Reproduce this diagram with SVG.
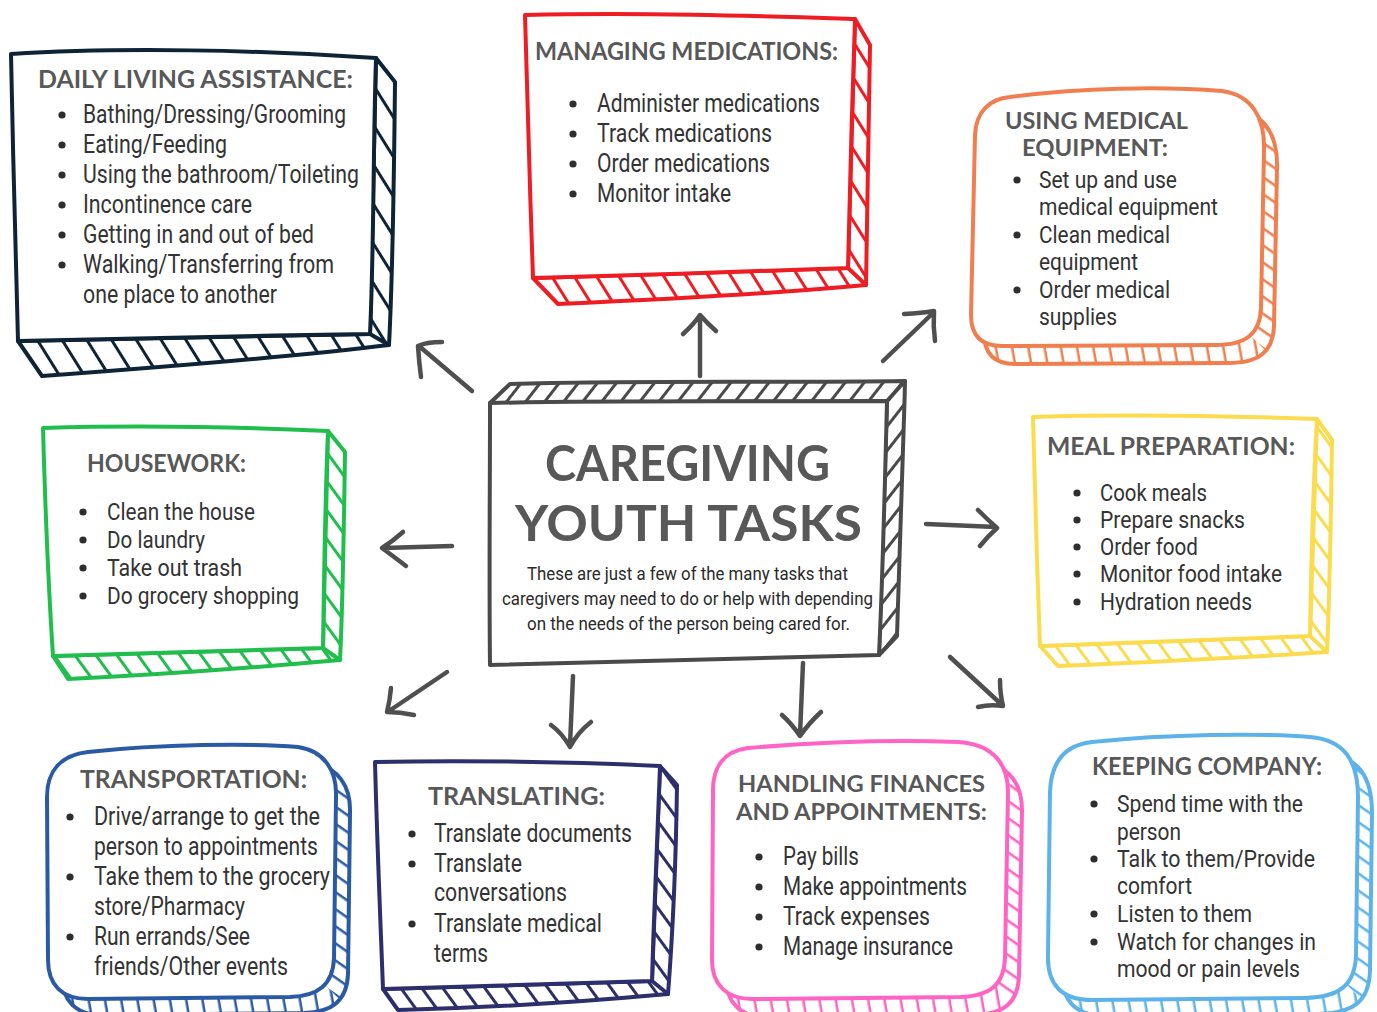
<svg xmlns="http://www.w3.org/2000/svg" width="1377" height="1012" viewBox="0 0 1377 1012">
<defs>
<style>
.t{font-family:Lato,"Open Sans",sans-serif;font-weight:700;fill:#585858;font-size:25px}
.t2{font-size:23px}
.big{font-size:50px}
.b{font-family:Roboto,"Liberation Sans",sans-serif;fill:#333;font-size:25px}
.s{font-size:24px}
.sub{font-family:Roboto,"Liberation Sans",sans-serif;fill:#2a2a2a;font-size:18.5px}
.dot{fill:#2e2e2e}
.face{fill:#fff;stroke-width:4;stroke-linejoin:round}
.band{stroke-width:4;stroke-linejoin:round}
.edge{fill:none;stroke-width:4;stroke-linecap:round}
.arr{fill:none;stroke:#4f4f4f;stroke-width:4.5;stroke-linecap:round;stroke-linejoin:round}
</style>
<!-- hatch fills for the extruded sides -->
<pattern id="hNavy" patternUnits="userSpaceOnUse" width="30" height="21" patternTransform="rotate(58)"><line x1="0" y1="1.5" x2="30" y2="1.5" stroke="#0e2436" stroke-width="3"/></pattern>
<pattern id="hRed" patternUnits="userSpaceOnUse" width="30" height="19" patternTransform="rotate(58)"><line x1="0" y1="1.5" x2="30" y2="1.5" stroke="#ee1d23" stroke-width="3"/></pattern>
<pattern id="hGreen" patternUnits="userSpaceOnUse" width="30" height="17" patternTransform="rotate(54)"><line x1="0" y1="1.5" x2="30" y2="1.5" stroke="#21be4d" stroke-width="3"/></pattern>
<pattern id="hYellow" patternUnits="userSpaceOnUse" width="30" height="17" patternTransform="rotate(54)"><line x1="0" y1="1.5" x2="30" y2="1.5" stroke="#fbdc4f" stroke-width="3"/></pattern>
<pattern id="hIndigo" patternUnits="userSpaceOnUse" width="30" height="17" patternTransform="rotate(54)"><line x1="0" y1="1.5" x2="30" y2="1.5" stroke="#2c2f6b" stroke-width="3"/></pattern>
<pattern id="hGray" patternUnits="userSpaceOnUse" width="30" height="15" patternTransform="rotate(-52)"><line x1="0" y1="1.5" x2="30" y2="1.5" stroke="#4a4a4a" stroke-width="3"/></pattern>
<pattern id="vOrange" patternUnits="userSpaceOnUse" width="30" height="16" patternTransform="rotate(80)"><line x1="0" y1="1.3" x2="30" y2="1.3" stroke="#f07e4e" stroke-width="2.5"/></pattern>
<pattern id="rOrange" patternUnits="userSpaceOnUse" width="30" height="14" patternTransform="rotate(35)"><line x1="0" y1="1.3" x2="30" y2="1.3" stroke="#f07e4e" stroke-width="2.5"/></pattern>
<pattern id="vBlue" patternUnits="userSpaceOnUse" width="30" height="16" patternTransform="rotate(80)"><line x1="0" y1="1.3" x2="30" y2="1.3" stroke="#2b5aa4" stroke-width="2.5"/></pattern>
<pattern id="rBlue" patternUnits="userSpaceOnUse" width="30" height="14" patternTransform="rotate(35)"><line x1="0" y1="1.3" x2="30" y2="1.3" stroke="#2b5aa4" stroke-width="2.5"/></pattern>
<pattern id="vPink" patternUnits="userSpaceOnUse" width="30" height="16" patternTransform="rotate(80)"><line x1="0" y1="1.3" x2="30" y2="1.3" stroke="#ff63c3" stroke-width="2.5"/></pattern>
<pattern id="rPink" patternUnits="userSpaceOnUse" width="30" height="14" patternTransform="rotate(35)"><line x1="0" y1="1.3" x2="30" y2="1.3" stroke="#ff63c3" stroke-width="2.5"/></pattern>
<pattern id="vSky" patternUnits="userSpaceOnUse" width="30" height="16" patternTransform="rotate(80)"><line x1="0" y1="1.3" x2="30" y2="1.3" stroke="#5db3e9" stroke-width="2.5"/></pattern>
<pattern id="rSky" patternUnits="userSpaceOnUse" width="30" height="14" patternTransform="rotate(35)"><line x1="0" y1="1.3" x2="30" y2="1.3" stroke="#5db3e9" stroke-width="2.5"/></pattern>
<!-- rounded card outlines -->
<path id="pOrange" d="M1010,97 C1080,88 1160,86 1222,91 C1252,95 1265,118 1264,150 L1261,308 C1260,334 1246,345 1215,345 L1002,346 C982,346 971,336 971,315 L975,135 C976,112 989,99 1010,97 Z"/>
<path id="pBlue" d="M88,752 C160,744 250,743 298,747 C324,751 337,770 336,797 L334,958 C333,985 318,996 290,997 L88,999 C62,999 48,985 48,960 L47,797 C47,771 61,755 88,752 Z"/>
<path id="pPink" d="M748,748 C820,742 900,740 958,742 C989,744 1008,760 1008,792 L1005,958 C1004,985 990,996 960,997 L752,999 C727,999 712,985 712,960 L713,790 C713,766 725,751 748,748 Z"/>
<path id="pSky" d="M1092,742 C1170,734 1258,733 1310,737 C1344,740 1358,760 1358,797 L1356,955 C1355,985 1340,997 1305,998 L1092,1000 C1062,1000 1047,985 1048,955 L1050,792 C1051,761 1065,745 1092,742 Z"/>
<clipPath id="cOrB"><polygon points="855,-60 1555,640 1555,900 855,900"/></clipPath>
<clipPath id="cOrR"><polygon points="855,-60 1555,640 1600,640 1600,-60"/></clipPath>
<clipPath id="cBlB"><polygon points="-70,590 630,1290 -70,1290"/></clipPath>
<clipPath id="cBlR"><polygon points="-70,590 630,1290 800,1290 800,500 -70,500"/></clipPath>
<clipPath id="cPkB"><polygon points="603,592 1303,1292 603,1292"/></clipPath>
<clipPath id="cPkR"><polygon points="603,592 1303,1292 1400,1292 1400,500 603,500"/></clipPath>
<clipPath id="cSkB"><polygon points="952,590 1652,1290 952,1290"/></clipPath>
<clipPath id="cSkR"><polygon points="952,590 1652,1290 1700,1290 1700,500 952,500"/></clipPath>
</defs>
<rect width="1377" height="1012" fill="#fff"/>

<!-- connectors -->
<g id="connectors">
<path class="arr" d="M472,391 L419,346 M442,342 Q426,342 418,346 Q419,362 421,377"/>
<path class="arr" d="M700,376 L700,316 M683,334 Q694,324 700,315 Q707,323 716,331"/>
<path class="arr" d="M883,361 L933,313 M904,314 Q922,313 934,311 Q933,326 935,341"/>
<path class="arr" d="M926,524 L996,527 M978,510 Q988,520 997,528 Q988,536 980,546"/>
<path class="arr" d="M950,657 L1001,704 M1000,680 Q1000,694 1003,706 Q990,704 978,707"/>
<path class="arr" d="M803,663 L800,735 M782,715 Q792,724 800,736 Q809,723 821,712"/>
<path class="arr" d="M573,676 L570,745 M551,725 Q562,733 570,747 Q578,732 591,722"/>
<path class="arr" d="M447,672 L389,711 M391,688 Q390,700 387,712 Q400,712 414,715"/>
<path class="arr" d="M452,546 L383,548 M403,532 Q393,541 382,548 Q393,556 406,566"/>
</g>

<!-- centre card -->
<g id="center">
<path class="band" d="M490,403 L510,384 C640,380 780,383 905,381 C903,470 900,560 897,636 L879,655 L887,401 Z" fill="url(#hGray)" stroke="#4a4a4a"/>
<path class="edge" d="M887,401 L905,381" stroke="#4a4a4a"/>
<path class="face" d="M490,403 C620,400 760,402 887,401 C885,480 883,570 879,655 C750,658 620,662 490,665 C489,580 490,490 490,403 Z" stroke="#4a4a4a"/>
<text class="t big" x="545" y="481" textLength="285" lengthAdjust="spacingAndGlyphs">CAREGIVING</text>
<text class="t big" x="515" y="541" textLength="347" lengthAdjust="spacingAndGlyphs">YOUTH TASKS</text>
<text class="sub" x="527" y="580" textLength="321" lengthAdjust="spacingAndGlyphs">These are just a few of the many tasks that</text>
<text class="sub" x="502" y="605" textLength="371" lengthAdjust="spacingAndGlyphs">caregivers may need to do or help with depending</text>
<text class="sub" x="527" y="630" textLength="323" lengthAdjust="spacingAndGlyphs">on the needs of the person being cared for.</text>
</g>

<!-- daily living -->
<g id="daily-living">
<path class="band" d="M376,58 L395,82 C394,180 393,270 389,345 C300,356 150,368 42,376 L18,341 L370,334 Z" fill="url(#hNavy)" stroke="#0e2436"/>
<path class="edge" d="M370,334 L389,345" stroke="#0e2436"/>
<path class="face" d="M11,54 C120,47 260,50 376,58 C373,150 374,250 370,334 C250,336 120,338 18,341 C15,240 13,150 11,54 Z" stroke="#0e2436"/>
<text class="t" x="38" y="88" textLength="315" lengthAdjust="spacingAndGlyphs">DAILY LIVING ASSISTANCE:</text>
<circle class="dot" cx="62" cy="115" r="3.6"/><text class="b" x="83" y="123" textLength="263" lengthAdjust="spacingAndGlyphs">Bathing/Dressing/Grooming</text>
<circle class="dot" cx="62" cy="145" r="3.6"/><text class="b" x="83" y="153" textLength="144" lengthAdjust="spacingAndGlyphs">Eating/Feeding</text>
<circle class="dot" cx="62" cy="175" r="3.6"/><text class="b" x="83" y="183" textLength="276" lengthAdjust="spacingAndGlyphs">Using the bathroom/Toileting</text>
<circle class="dot" cx="62" cy="205" r="3.6"/><text class="b" x="83" y="213" textLength="169" lengthAdjust="spacingAndGlyphs">Incontinence care</text>
<circle class="dot" cx="62" cy="235" r="3.6"/><text class="b" x="83" y="243" textLength="231" lengthAdjust="spacingAndGlyphs">Getting in and out of bed</text>
<circle class="dot" cx="62" cy="265" r="3.6"/><text class="b" x="83" y="273" textLength="251" lengthAdjust="spacingAndGlyphs">Walking/Transferring from</text>
<text class="b" x="83" y="303" textLength="194" lengthAdjust="spacingAndGlyphs">one place to another</text>
</g>

<!-- managing medications -->
<g id="medications">
<path class="band" d="M855,19 L870,45 C869,130 868,210 866,285 C760,295 650,300 558,304 L533,278 L848,268 Z" fill="url(#hRed)" stroke="#ee1d23"/>
<path class="edge" d="M848,268 L866,285" stroke="#ee1d23"/>
<path class="face" d="M525,15 C640,12 760,16 855,19 C852,100 850,190 848,268 C740,272 640,275 533,278 C530,190 527,100 525,15 Z" stroke="#ee1d23"/>
<text class="t" x="535" y="60" textLength="303" lengthAdjust="spacingAndGlyphs">MANAGING MEDICATIONS:</text>
<circle class="dot" cx="573" cy="104" r="3.6"/><text class="b" x="597" y="112" textLength="223" lengthAdjust="spacingAndGlyphs">Administer medications</text>
<circle class="dot" cx="573" cy="134" r="3.6"/><text class="b" x="597" y="142" textLength="175" lengthAdjust="spacingAndGlyphs">Track medications</text>
<circle class="dot" cx="573" cy="164" r="3.6"/><text class="b" x="597" y="172" textLength="173" lengthAdjust="spacingAndGlyphs">Order medications</text>
<circle class="dot" cx="573" cy="194" r="3.6"/><text class="b" x="597" y="202" textLength="134" lengthAdjust="spacingAndGlyphs">Monitor intake</text>
</g>

<!-- medical equipment -->
<g id="equipment">
<use href="#pOrange" transform="translate(13,18)" fill="#fff"/>
<g clip-path="url(#cOrB)"><use href="#pOrange" transform="translate(13,18)" fill="url(#vOrange)"/></g>
<g clip-path="url(#cOrR)"><use href="#pOrange" transform="translate(13,18)" fill="url(#rOrange)"/></g>
<use href="#pOrange" transform="translate(13,18)" fill="none" stroke="#f07e4e" stroke-width="4"/>
<use href="#pOrange" class="face" stroke="#f07e4e"/>
<text class="t t2" x="1005" y="129" textLength="183" lengthAdjust="spacingAndGlyphs">USING MEDICAL</text>
<text class="t t2" x="1022" y="156" textLength="146" lengthAdjust="spacingAndGlyphs">EQUIPMENT:</text>
<circle class="dot" cx="1017" cy="180" r="3.6"/><text class="b s" x="1039" y="188" textLength="138" lengthAdjust="spacingAndGlyphs">Set up and use</text>
<text class="b s" x="1039" y="215" textLength="179" lengthAdjust="spacingAndGlyphs">medical equipment</text>
<circle class="dot" cx="1017" cy="235" r="3.6"/><text class="b s" x="1039" y="243" textLength="131" lengthAdjust="spacingAndGlyphs">Clean medical</text>
<text class="b s" x="1039" y="270" textLength="99" lengthAdjust="spacingAndGlyphs">equipment</text>
<circle class="dot" cx="1017" cy="290" r="3.6"/><text class="b s" x="1039" y="298" textLength="131" lengthAdjust="spacingAndGlyphs">Order medical</text>
<text class="b s" x="1039" y="325" textLength="78" lengthAdjust="spacingAndGlyphs">supplies</text>
</g>

<!-- housework -->
<g id="housework">
<path class="band" d="M328,431 L345,452 C344,520 343,600 340,660 C250,668 150,675 68,679 L53,656 L323,648 Z" fill="url(#hGreen)" stroke="#21be4d"/>
<path class="edge" d="M323,648 L340,660" stroke="#21be4d"/>
<path class="face" d="M43,428 C140,425 240,427 328,431 C325,500 324,580 323,648 C230,651 140,653 53,656 C48,580 45,500 43,428 Z" stroke="#21be4d"/>
<text class="t" x="87" y="472" textLength="159" lengthAdjust="spacingAndGlyphs">HOUSEWORK:</text>
<circle class="dot" cx="83" cy="512" r="3.6"/><text class="b s" x="107" y="520" textLength="148" lengthAdjust="spacingAndGlyphs">Clean the house</text>
<circle class="dot" cx="83" cy="540" r="3.6"/><text class="b s" x="107" y="548" textLength="98" lengthAdjust="spacingAndGlyphs">Do laundry</text>
<circle class="dot" cx="83" cy="568" r="3.6"/><text class="b s" x="107" y="576" textLength="135" lengthAdjust="spacingAndGlyphs">Take out trash</text>
<circle class="dot" cx="83" cy="596" r="3.6"/><text class="b s" x="107" y="604" textLength="192" lengthAdjust="spacingAndGlyphs">Do grocery shopping</text>
</g>

<!-- meal preparation -->
<g id="meals">
<path class="band" d="M1317,419 L1332,440 C1331,510 1330,590 1327,652 C1240,658 1150,662 1058,666 L1040,646 L1310,636 Z" fill="url(#hYellow)" stroke="#fbdc4f"/>
<path class="edge" d="M1310,636 L1327,652" stroke="#fbdc4f"/>
<path class="face" d="M1033,417 C1130,414 1230,416 1317,419 C1313,490 1311,570 1310,636 C1220,640 1130,643 1040,646 C1037,570 1035,490 1033,417 Z" stroke="#fbdc4f"/>
<text class="t" x="1047" y="455" textLength="248" lengthAdjust="spacingAndGlyphs">MEAL PREPARATION:</text>
<circle class="dot" cx="1077" cy="493" r="3.6"/><text class="b s" x="1100" y="501" textLength="107" lengthAdjust="spacingAndGlyphs">Cook meals</text>
<circle class="dot" cx="1077" cy="520" r="3.6"/><text class="b s" x="1100" y="528" textLength="145" lengthAdjust="spacingAndGlyphs">Prepare snacks</text>
<circle class="dot" cx="1077" cy="547" r="3.6"/><text class="b s" x="1100" y="555" textLength="98" lengthAdjust="spacingAndGlyphs">Order food</text>
<circle class="dot" cx="1077" cy="574" r="3.6"/><text class="b s" x="1100" y="582" textLength="182" lengthAdjust="spacingAndGlyphs">Monitor food intake</text>
<circle class="dot" cx="1077" cy="602" r="3.6"/><text class="b s" x="1100" y="610" textLength="152" lengthAdjust="spacingAndGlyphs">Hydration needs</text>
</g>

<!-- transportation -->
<g id="transportation">
<use href="#pBlue" transform="translate(14,16)" fill="#fff"/>
<g clip-path="url(#cBlB)"><use href="#pBlue" transform="translate(14,16)" fill="url(#vBlue)"/></g>
<g clip-path="url(#cBlR)"><use href="#pBlue" transform="translate(14,16)" fill="url(#rBlue)"/></g>
<use href="#pBlue" transform="translate(14,16)" fill="none" stroke="#2b5aa4" stroke-width="4"/>
<use href="#pBlue" class="face" stroke="#2b5aa4"/>
<text class="t" x="80" y="788" textLength="227" lengthAdjust="spacingAndGlyphs">TRANSPORTATION:</text>
<circle class="dot" cx="70" cy="817" r="3.6"/><text class="b" x="94" y="825" textLength="226" lengthAdjust="spacingAndGlyphs">Drive/arrange to get the</text>
<text class="b" x="94" y="855" textLength="224" lengthAdjust="spacingAndGlyphs">person to appointments</text>
<circle class="dot" cx="70" cy="877" r="3.6"/><text class="b" x="94" y="885" textLength="236" lengthAdjust="spacingAndGlyphs">Take them to the grocery</text>
<text class="b" x="94" y="915" textLength="151" lengthAdjust="spacingAndGlyphs">store/Pharmacy</text>
<circle class="dot" cx="70" cy="937" r="3.6"/><text class="b" x="94" y="945" textLength="156" lengthAdjust="spacingAndGlyphs">Run errands/See</text>
<text class="b" x="94" y="975" textLength="194" lengthAdjust="spacingAndGlyphs">friends/Other events</text>
</g>

<!-- translating -->
<g id="translating">
<path class="band" d="M660,766 L677,785 C676,860 673,930 668,994 C580,1002 480,1008 398,1010 L383,989 L652,981 Z" fill="url(#hIndigo)" stroke="#2c2f6b"/>
<path class="edge" d="M652,981 L668,994" stroke="#2c2f6b"/>
<path class="face" d="M375,762 C470,760 570,762 660,766 C657,840 654,910 652,981 C560,984 470,986 383,989 C380,910 377,840 375,762 Z" stroke="#2c2f6b"/>
<text class="t" x="428" y="805" textLength="177" lengthAdjust="spacingAndGlyphs">TRANSLATING:</text>
<circle class="dot" cx="412" cy="834" r="3.6"/><text class="b" x="434" y="842" textLength="198" lengthAdjust="spacingAndGlyphs">Translate documents</text>
<circle class="dot" cx="412" cy="864" r="3.6"/><text class="b" x="434" y="872" textLength="88" lengthAdjust="spacingAndGlyphs">Translate</text>
<text class="b" x="434" y="901" textLength="133" lengthAdjust="spacingAndGlyphs">conversations</text>
<circle class="dot" cx="412" cy="924" r="3.6"/><text class="b" x="434" y="932" textLength="168" lengthAdjust="spacingAndGlyphs">Translate medical</text>
<text class="b" x="434" y="962" textLength="54" lengthAdjust="spacingAndGlyphs">terms</text>
</g>

<!-- finances and appointments -->
<g id="finances">
<use href="#pPink" transform="translate(14,18)" fill="#fff"/>
<g clip-path="url(#cPkB)"><use href="#pPink" transform="translate(14,18)" fill="url(#vPink)"/></g>
<g clip-path="url(#cPkR)"><use href="#pPink" transform="translate(14,18)" fill="url(#rPink)"/></g>
<use href="#pPink" transform="translate(14,18)" fill="none" stroke="#ff63c3" stroke-width="4"/>
<use href="#pPink" class="face" stroke="#ff63c3"/>
<text class="t t2" x="738" y="792" textLength="247" lengthAdjust="spacingAndGlyphs">HANDLING FINANCES</text>
<text class="t t2" x="736" y="820" textLength="251" lengthAdjust="spacingAndGlyphs">AND APPOINTMENTS:</text>
<circle class="dot" cx="759" cy="857" r="3.6"/><text class="b" x="783" y="865" textLength="76" lengthAdjust="spacingAndGlyphs">Pay bills</text>
<circle class="dot" cx="759" cy="887" r="3.6"/><text class="b" x="783" y="895" textLength="184" lengthAdjust="spacingAndGlyphs">Make appointments</text>
<circle class="dot" cx="759" cy="917" r="3.6"/><text class="b" x="783" y="925" textLength="147" lengthAdjust="spacingAndGlyphs">Track expenses</text>
<circle class="dot" cx="759" cy="947" r="3.6"/><text class="b" x="783" y="955" textLength="170" lengthAdjust="spacingAndGlyphs">Manage insurance</text>
</g>

<!-- keeping company -->
<g id="company">
<use href="#pSky" transform="translate(14,16)" fill="#fff"/>
<g clip-path="url(#cSkB)"><use href="#pSky" transform="translate(14,16)" fill="url(#vSky)"/></g>
<g clip-path="url(#cSkR)"><use href="#pSky" transform="translate(14,16)" fill="url(#rSky)"/></g>
<use href="#pSky" transform="translate(14,16)" fill="none" stroke="#5db3e9" stroke-width="4"/>
<use href="#pSky" class="face" stroke="#5db3e9"/>
<text class="t" x="1092" y="775" textLength="230" lengthAdjust="spacingAndGlyphs">KEEPING COMPANY:</text>
<circle class="dot" cx="1094" cy="804" r="3.6"/><text class="b s" x="1117" y="812" textLength="186" lengthAdjust="spacingAndGlyphs">Spend time with the</text>
<text class="b s" x="1117" y="840" textLength="64" lengthAdjust="spacingAndGlyphs">person</text>
<circle class="dot" cx="1094" cy="859" r="3.6"/><text class="b s" x="1117" y="867" textLength="198" lengthAdjust="spacingAndGlyphs">Talk to them/Provide</text>
<text class="b s" x="1117" y="894" textLength="75" lengthAdjust="spacingAndGlyphs">comfort</text>
<circle class="dot" cx="1094" cy="914" r="3.6"/><text class="b s" x="1117" y="922" textLength="135" lengthAdjust="spacingAndGlyphs">Listen to them</text>
<circle class="dot" cx="1094" cy="942" r="3.6"/><text class="b s" x="1117" y="950" textLength="199" lengthAdjust="spacingAndGlyphs">Watch for changes in</text>
<text class="b s" x="1117" y="977" textLength="183" lengthAdjust="spacingAndGlyphs">mood or pain levels</text>
</g>
</svg>
